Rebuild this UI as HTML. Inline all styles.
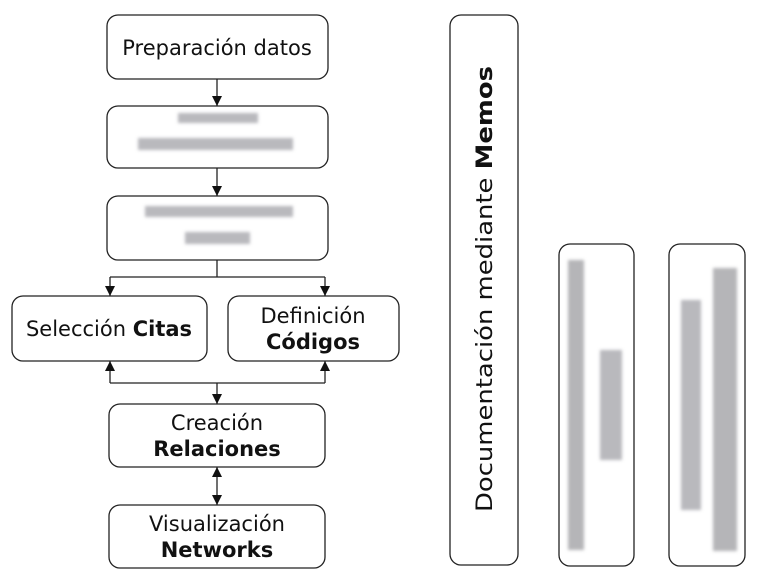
<!DOCTYPE html>
<html><head><meta charset="utf-8"><style>
html,body{margin:0;padding:0;background:#fff;}
svg{display:block;}
text{font-family:"DejaVu Sans","Liberation Sans",sans-serif;fill:#111;}
</style></head><body>
<svg width="778" height="583" viewBox="0 0 778 583" xmlns="http://www.w3.org/2000/svg">
<defs>
<marker id="a" viewBox="0 0 10 10" refX="10" refY="5" markerWidth="11" markerHeight="10" markerUnits="userSpaceOnUse" orient="auto"><path d="M0,0 L10,5 L0,10 z" fill="#111"/></marker>
<filter id="b"><feGaussianBlur stdDeviation="1.6"/></filter>
</defs>
<g fill="none" stroke="#222" stroke-width="1.3">
<rect x="107" y="15" width="221" height="64" rx="11"/>
<rect x="107" y="106" width="221" height="62" rx="11"/>
<rect x="107" y="196" width="221" height="64" rx="11"/>
<rect x="12" y="296" width="195" height="65" rx="11"/>
<rect x="228" y="296" width="171" height="65" rx="11"/>
<rect x="109" y="404" width="216" height="63" rx="11"/>
<rect x="109" y="505" width="216" height="63" rx="11"/>
<rect x="450" y="15" width="68" height="550" rx="11"/>
<rect x="559" y="244" width="75" height="322" rx="11"/>
<rect x="669" y="244" width="76" height="322" rx="11"/>
<path d="M217,79 V106" marker-end="url(#a)"/>
<path d="M217,168 V196" marker-end="url(#a)"/>
<path d="M217,260 V277 M110,277 H325"/>
<path d="M110,277 V296" marker-end="url(#a)"/>
<path d="M325,277 V296" marker-end="url(#a)"/>
<path d="M110,383 H325"/>
<path d="M110,383 V361" marker-end="url(#a)"/>
<path d="M325,383 V361" marker-end="url(#a)"/>
<path d="M217,383 V404" marker-end="url(#a)"/>
<path d="M217,486 V467" marker-end="url(#a)"/>
<path d="M217,486 V505" marker-end="url(#a)"/>
</g>
<g filter="url(#b)" fill="#a8a8ac">
<rect x="178" y="113" width="80" height="10" opacity="0.8"/>
<rect x="138" y="138" width="155" height="12" opacity="0.8"/>
<rect x="145" y="206" width="148" height="11" opacity="0.8"/>
<rect x="185" y="232" width="65" height="12" opacity="0.8"/>
<rect x="568" y="260" width="16" height="290" opacity="0.85"/>
<rect x="600" y="350" width="22" height="110" opacity="0.8"/>
<rect x="681" y="300" width="20" height="210" opacity="0.8"/>
<rect x="713" y="268" width="24" height="283" opacity="0.85"/>
</g>
<text x="217" y="55" font-size="21" text-anchor="middle">Preparación datos</text>
<text x="109" y="336" font-size="21" text-anchor="middle">Selección <tspan font-weight="bold">Citas</tspan></text>
<text x="313" y="323" font-size="21" text-anchor="middle">Definición</text>
<text x="313" y="349" font-size="21" text-anchor="middle" font-weight="bold">Códigos</text>
<text x="217" y="430" font-size="21" text-anchor="middle">Creación</text>
<text x="217" y="456" font-size="21" text-anchor="middle" font-weight="bold">Relaciones</text>
<text x="217" y="531" font-size="21" text-anchor="middle">Visualización</text>
<text x="217" y="557" font-size="21" text-anchor="middle" font-weight="bold">Networks</text>
<text transform="translate(492,289) rotate(-90)" font-size="22" text-anchor="middle" textLength="446" lengthAdjust="spacingAndGlyphs">Documentación mediante <tspan font-weight="bold">Memos</tspan></text>
</svg>
</body></html>
